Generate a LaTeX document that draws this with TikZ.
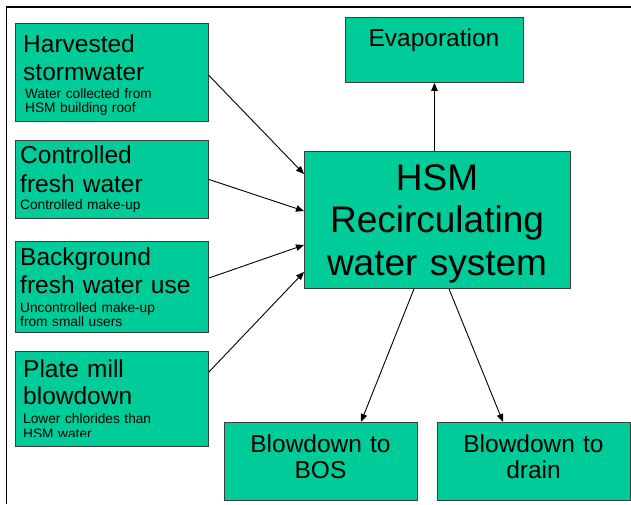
\documentclass[tikz,border=0pt]{standalone}
\usepackage{fontspec}
\setmainfont{Liberation Sans}
\usetikzlibrary{arrows.meta}
\definecolor{boxgreen}{RGB}{0,204,153}
\definecolor{boxedge}{RGB}{60,60,60}
\begin{document}
\begin{tikzpicture}[x=1pt,y=-1pt,
  box/.style={draw=boxedge, line width=0.9pt, fill=boxgreen, inner sep=0pt, anchor=north west},
  bigtxt/.style={inner sep=0pt, anchor=base west, align=left, text width=188pt},
  smalltxt/.style={inner sep=0pt, anchor=base west, align=left, text width=188pt,
    font=\fontsize{13.7pt}{14pt}\selectfont},
  ctrtxt/.style={inner sep=0pt, anchor=base, align=center, text width=190pt},
  arr/.style={line width=0.9pt, -{Triangle[length=8pt,width=6.5pt]}},
  frame/.style={line width=1.3pt}]
\useasboundingbox (0,0) rectangle (631,504);
% frame (top and left)
\coordinate (ftl) at (6.5,7);
\coordinate (ftr) at (631,7);
\coordinate (fbl) at (6.5,504);
\draw[frame] (ftr) -- (ftl) -- (fbl);

% boxes
\node[box, minimum width=193pt, minimum height=98pt] (harv) at (15,23) {};
\node[box, minimum width=193pt, minimum height=78pt] (ctrl) at (15,140) {};
\node[box, minimum width=193pt, minimum height=91pt] (bg) at (15,241) {};
\node[box, minimum width=193pt, minimum height=95pt] (plate) at (15,351) {};
\node[box, minimum width=266pt, minimum height=137pt] (hsm) at (304,151) {};
\node[box, minimum width=178pt, minimum height=65pt] (evap) at (345,17) {};
\node[box, minimum width=193pt, minimum height=78pt] (bos) at (224,422) {};
\node[box, minimum width=193pt, minimum height=78pt] (drain) at (437,422) {};

% texts
\node[bigtxt, font=\fontsize{24.5pt}{28pt}\selectfont] (harvA) at (23,52) {Harvested\\stormwater};
\node[smalltxt] (harvB) at (25,98) {Water collected from\\HSM building roof};
\node[bigtxt, font=\fontsize{24.5pt}{29pt}\selectfont] (ctrlA) at (20,163) {Controlled\\fresh water};
\node[smalltxt] (ctrlB) at (20,209) {Controlled make-up};
\node[bigtxt, font=\fontsize{24.5pt}{28pt}\selectfont] (bgA) at (20,265) {Background\\fresh water use};
\node[smalltxt] (bgB) at (20,312) {Uncontrolled make-up\\from small users};
\node[bigtxt, font=\fontsize{24.5pt}{27pt}\selectfont] (plateA) at (23,377) {Plate mill\\blowdown};
\begin{scope}
  \clip (15,351) rectangle (208,436.5);
  \node[smalltxt, font=\fontsize{13.7pt}{14.5pt}\selectfont] (plateB) at (23,423.5) {Lower chlorides than\\HSM water};
\end{scope}
\node[ctrtxt, text width=260pt, font=\fontsize{37pt}{42.5pt}\selectfont] (hsmA) at (437,190) {HSM\\Recirculating\\water system};
\node[ctrtxt, font=\fontsize{24.5pt}{28pt}\selectfont] (evapA) at (434,46) {Evaporation};
\node[ctrtxt, font=\fontsize{24.5pt}{26pt}\selectfont] (bosA) at (320.5,452) {Blowdown to\\BOS};
\node[ctrtxt, font=\fontsize{24.5pt}{26pt}\selectfont] (drainA) at (533.5,452) {Blowdown to\\drain};

% connectors
\draw[arr] ([yshift=-3pt]harv.east) -- ([yshift=-23pt]hsm.north west);
\draw[arr] (ctrl.east) -- ([yshift=-60pt]hsm.north west);
\draw[arr] ([yshift=-37pt]bg.north east) -- ([yshift=-94pt]hsm.north west);
\draw[arr] ([yshift=-21pt]plate.north east) -- ([yshift=-121pt]hsm.north west);
\draw[arr] (hsm.north -| evap.south) -- (evap.south);
\draw[arr] ([xshift=110pt]hsm.south west) -- ([xshift=137pt]bos.north west);
\draw[arr] ([xshift=145pt]hsm.south west) -- ([xshift=66pt]drain.north west);
\end{tikzpicture}
\end{document}
